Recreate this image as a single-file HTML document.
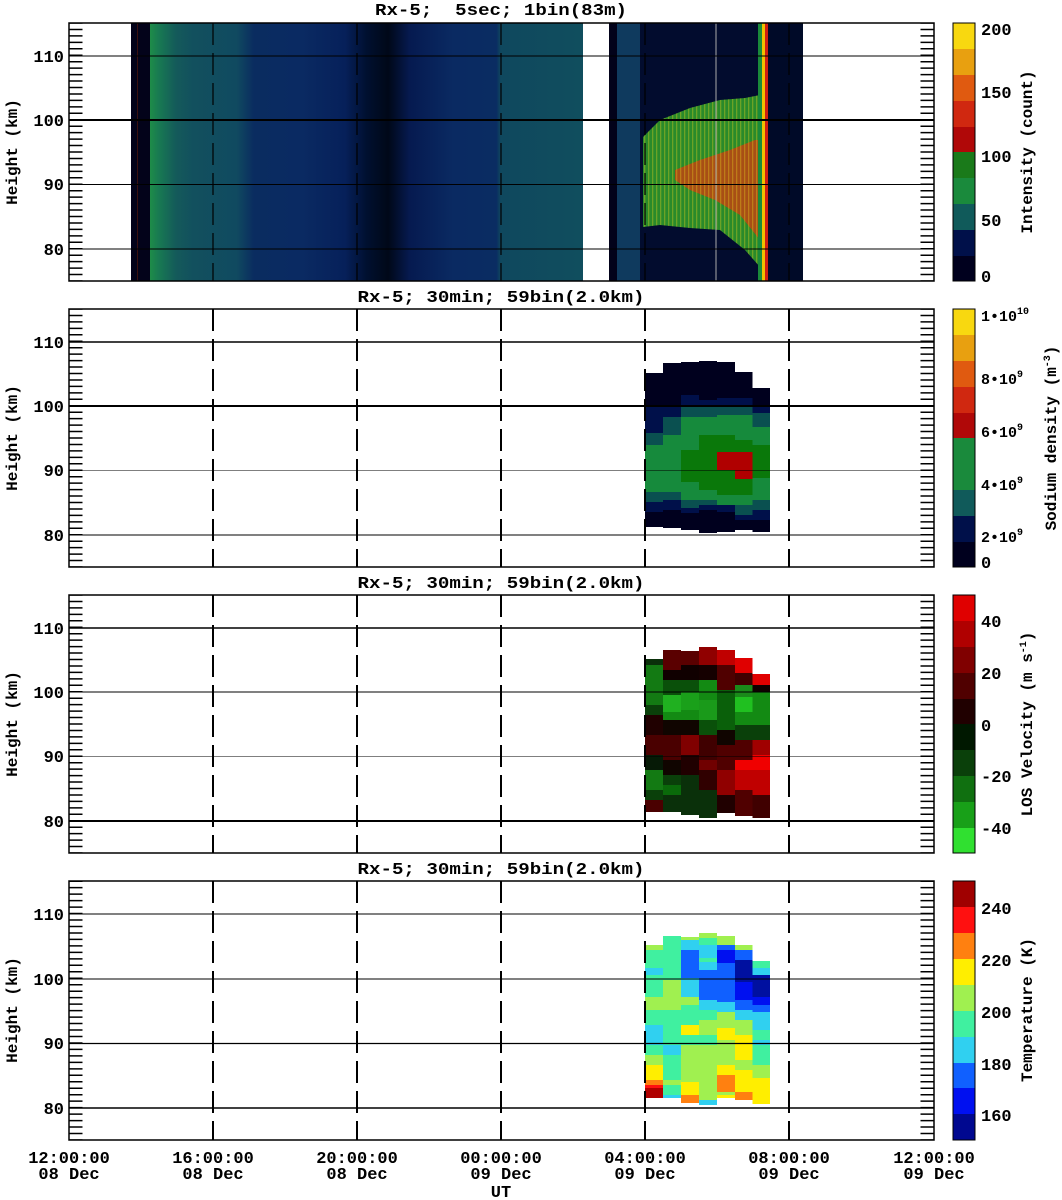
<!DOCTYPE html>
<html><head><meta charset="utf-8"><style>
html,body{margin:0;padding:0;background:#fff;}
svg{display:block;}
text{font-family:"Liberation Mono",monospace;font-weight:bold;fill:#000;}
</style></head><body>
<svg width="1062" height="1200" viewBox="0 0 1062 1200" xmlns="http://www.w3.org/2000/svg">
<defs>
<linearGradient id="g1" x1="0" x2="1" y1="0" y2="0">
<stop offset="0" stop-color="#1e8c48"/><stop offset="0.02" stop-color="#187a52"/>
<stop offset="0.06" stop-color="#145a5a"/><stop offset="0.1" stop-color="#12505e"/>
<stop offset="0.2" stop-color="#104a60"/><stop offset="0.24" stop-color="#0a2c60"/>
<stop offset="0.35" stop-color="#0a2a62"/><stop offset="0.45" stop-color="#06205a"/>
<stop offset="0.5" stop-color="#001030"/><stop offset="0.55" stop-color="#000818"/>
<stop offset="0.6" stop-color="#061a50"/><stop offset="0.7" stop-color="#0a2a62"/>
<stop offset="0.8" stop-color="#0a2c62"/><stop offset="0.81" stop-color="#0f485e"/>
<stop offset="1" stop-color="#104e5e"/>
</linearGradient>
<pattern id="str" width="4" height="10" patternUnits="userSpaceOnUse"><rect x="0" y="0" width="1.3" height="10" fill="#e8d020" opacity="0.35"/></pattern>
</defs>

<!-- Panel 1 data -->
<rect x="131" y="23" width="19" height="258" fill="#03031a"/>
<rect x="137" y="23" width="1" height="258" fill="#3a1010"/>
<rect x="150" y="23" width="433" height="258" fill="url(#g1)"/>
<rect x="609" y="23" width="8" height="258" fill="#02021a"/>
<rect x="617" y="23" width="23" height="258" fill="#0f3a5e"/>
<rect x="640" y="23" width="120" height="258" fill="#020c2e"/>
<polygon points="643,137 660,120 690,108 720,100 745,98 760,95 760,267 745,250 720,230 690,228 660,225 643,227" fill="#2a8a2a"/>
<polygon points="675,170 700,160 730,150 755,140 760,140 760,240 740,215 715,200 690,190 675,180" fill="#c84010" opacity="0.8"/>
<polygon points="643,137 660,120 690,108 720,100 745,98 760,95 760,267 745,250 720,230 690,228 660,225 643,227" fill="url(#str)"/>
<rect x="758" y="23" width="4" height="258" fill="#1a8a3a"/>
<rect x="762" y="23" width="3" height="258" fill="#f0c000"/>
<rect x="765" y="23" width="3" height="258" fill="#d02010"/>
<rect x="768" y="23" width="35" height="258" fill="#000a28"/>
<line x1="716" y1="23" x2="716" y2="281" stroke="#aaa" stroke-width="1"/>

<!-- Panel 2 data -->
<g shape-rendering="crispEdges">
<rect x="645" y="373" width="18.3" height="32" fill="#00001e"/><rect x="645" y="405" width="18.3" height="28" fill="#00104a"/><rect x="645" y="433" width="18.3" height="12" fill="#0a5050"/><rect x="645" y="445" width="18.3" height="47" fill="#168a3c"/><rect x="645" y="492" width="18.3" height="10" fill="#0a5050"/><rect x="645" y="502" width="18.3" height="10" fill="#00104a"/><rect x="645" y="512" width="18.3" height="15" fill="#00001e"/>
<rect x="663" y="363" width="18" height="42" fill="#00001e"/><rect x="663" y="405" width="18" height="12" fill="#00104a"/><rect x="663" y="417" width="18" height="18" fill="#0a5050"/><rect x="663" y="435" width="18" height="57" fill="#168a3c"/><rect x="663" y="492" width="18" height="8" fill="#0a5050"/><rect x="663" y="500" width="18" height="10" fill="#00104a"/><rect x="663" y="510" width="18" height="18" fill="#00001e"/>
<rect x="681" y="362" width="18" height="33" fill="#00001e"/><rect x="681" y="395" width="18" height="10" fill="#00104a"/><rect x="681" y="405" width="18" height="12" fill="#0a5050"/><rect x="681" y="417" width="18" height="33" fill="#168a3c"/><rect x="681" y="450" width="18" height="32" fill="#0a780a"/><rect x="681" y="482" width="18" height="18" fill="#168a3c"/><rect x="681" y="500" width="18" height="8" fill="#0a5050"/><rect x="681" y="508" width="18" height="5" fill="#00104a"/><rect x="681" y="513" width="18" height="17" fill="#00001e"/>
<rect x="699" y="361" width="18" height="39" fill="#00001e"/><rect x="699" y="400" width="18" height="7" fill="#00104a"/><rect x="699" y="407" width="18" height="10" fill="#0a5050"/><rect x="699" y="417" width="18" height="18" fill="#168a3c"/><rect x="699" y="435" width="18" height="55" fill="#0a780a"/><rect x="699" y="490" width="18" height="10" fill="#168a3c"/><rect x="699" y="500" width="18" height="5" fill="#0a5050"/><rect x="699" y="505" width="18" height="5" fill="#00104a"/><rect x="699" y="510" width="18" height="23" fill="#00001e"/>
<rect x="717" y="362" width="18" height="36" fill="#00001e"/><rect x="717" y="398" width="18" height="7" fill="#00104a"/><rect x="717" y="405" width="18" height="10" fill="#0a5050"/><rect x="717" y="415" width="18" height="20" fill="#168a3c"/><rect x="717" y="435" width="18" height="17" fill="#0a780a"/><rect x="717" y="452" width="18" height="18" fill="#b00000"/><rect x="717" y="470" width="18" height="25" fill="#0a780a"/><rect x="717" y="495" width="18" height="10" fill="#168a3c"/><rect x="717" y="505" width="18" height="7" fill="#00104a"/><rect x="717" y="512" width="18" height="20" fill="#00001e"/>
<rect x="735" y="372" width="17.5" height="26" fill="#00001e"/><rect x="735" y="398" width="17.5" height="7" fill="#00104a"/><rect x="735" y="405" width="17.5" height="10" fill="#0a5050"/><rect x="735" y="415" width="17.5" height="25" fill="#168a3c"/><rect x="735" y="440" width="17.5" height="12" fill="#0a780a"/><rect x="735" y="452" width="17.5" height="27" fill="#b00000"/><rect x="735" y="479" width="17.5" height="16" fill="#0a780a"/><rect x="735" y="495" width="17.5" height="10" fill="#168a3c"/><rect x="735" y="505" width="17.5" height="10" fill="#0a5050"/><rect x="735" y="515" width="17.5" height="5" fill="#00104a"/><rect x="735" y="520" width="17.5" height="10" fill="#00001e"/>
<rect x="752.5" y="388" width="17.5" height="17" fill="#00001e"/><rect x="752.5" y="405" width="17.5" height="8" fill="#00104a"/><rect x="752.5" y="413" width="17.5" height="14" fill="#0a5050"/><rect x="752.5" y="427" width="17.5" height="18" fill="#168a3c"/><rect x="752.5" y="445" width="17.5" height="33" fill="#0a780a"/><rect x="752.5" y="478" width="17.5" height="22" fill="#168a3c"/><rect x="752.5" y="500" width="17.5" height="10" fill="#0a5050"/><rect x="752.5" y="510" width="17.5" height="10" fill="#00104a"/><rect x="752.5" y="520" width="17.5" height="12" fill="#00001e"/>
</g>

<!-- Panel 3 data -->
<g shape-rendering="crispEdges">
<rect x="645" y="659" width="18.3" height="6" fill="#0a300a"/><rect x="645" y="665" width="18.3" height="40" fill="#137a13"/><rect x="645" y="705" width="18.3" height="10" fill="#0a400a"/><rect x="645" y="715" width="18.3" height="20" fill="#200000"/><rect x="645" y="735" width="18.3" height="20" fill="#4a0000"/><rect x="645" y="755" width="18.3" height="15" fill="#061a06"/><rect x="645" y="770" width="18.3" height="20" fill="#137a13"/><rect x="645" y="790" width="18.3" height="10" fill="#0a400a"/><rect x="645" y="800" width="18.3" height="12" fill="#4a0000"/>
<rect x="663" y="650" width="18" height="20" fill="#5a0000"/><rect x="663" y="670" width="18" height="10" fill="#100000"/><rect x="663" y="680" width="18" height="15" fill="#0a500a"/><rect x="663" y="695" width="18" height="17" fill="#20b020"/><rect x="663" y="712" width="18" height="8" fill="#138a13"/><rect x="663" y="720" width="18" height="15" fill="#100500"/><rect x="663" y="735" width="18" height="25" fill="#4a0000"/><rect x="663" y="760" width="18" height="15" fill="#100500"/><rect x="663" y="775" width="18" height="10" fill="#0a400a"/><rect x="663" y="785" width="18" height="10" fill="#0a6a0a"/><rect x="663" y="795" width="18" height="17" fill="#0a300a"/>
<rect x="681" y="651" width="18" height="14" fill="#5a0000"/><rect x="681" y="665" width="18" height="15" fill="#100000"/><rect x="681" y="680" width="18" height="12" fill="#0a500a"/><rect x="681" y="692" width="18" height="18" fill="#1aa01a"/><rect x="681" y="710" width="18" height="10" fill="#138a13"/><rect x="681" y="720" width="18" height="15" fill="#100500"/><rect x="681" y="735" width="18" height="20" fill="#800000"/><rect x="681" y="755" width="18" height="20" fill="#200000"/><rect x="681" y="775" width="18" height="40" fill="#0a300a"/>
<rect x="699" y="647" width="18" height="18" fill="#900000"/><rect x="699" y="665" width="18" height="15" fill="#150000"/><rect x="699" y="680" width="18" height="20" fill="#138a13"/><rect x="699" y="700" width="18" height="20" fill="#1a9a1a"/><rect x="699" y="720" width="18" height="15" fill="#0a500a"/><rect x="699" y="735" width="18" height="25" fill="#400000"/><rect x="699" y="760" width="18" height="10" fill="#700000"/><rect x="699" y="770" width="18" height="20" fill="#300000"/><rect x="699" y="790" width="18" height="28" fill="#0a300a"/>
<rect x="717" y="650" width="18" height="15" fill="#c00000"/><rect x="717" y="665" width="18" height="25" fill="#500000"/><rect x="717" y="690" width="18" height="40" fill="#0a600a"/><rect x="717" y="730" width="18" height="15" fill="#100500"/><rect x="717" y="745" width="18" height="25" fill="#500000"/><rect x="717" y="770" width="18" height="25" fill="#900000"/><rect x="717" y="795" width="18" height="18" fill="#200000"/>
<rect x="735" y="658" width="17.5" height="15" fill="#e00000"/><rect x="735" y="673" width="17.5" height="12" fill="#400000"/><rect x="735" y="685" width="17.5" height="12" fill="#1a8a1a"/><rect x="735" y="697" width="17.5" height="15" fill="#20c020"/><rect x="735" y="712" width="17.5" height="13" fill="#138a13"/><rect x="735" y="725" width="17.5" height="15" fill="#0a400a"/><rect x="735" y="740" width="17.5" height="20" fill="#500000"/><rect x="735" y="760" width="17.5" height="10" fill="#f00000"/><rect x="735" y="770" width="17.5" height="20" fill="#c00000"/><rect x="735" y="790" width="17.5" height="26" fill="#500000"/>
<rect x="752.5" y="674" width="17.5" height="11" fill="#e00000"/><rect x="752.5" y="685" width="17.5" height="7" fill="#100000"/><rect x="752.5" y="692" width="17.5" height="33" fill="#138a13"/><rect x="752.5" y="725" width="17.5" height="15" fill="#0a400a"/><rect x="752.5" y="740" width="17.5" height="15" fill="#a00000"/><rect x="752.5" y="755" width="17.5" height="15" fill="#f00000"/><rect x="752.5" y="770" width="17.5" height="25" fill="#c00000"/><rect x="752.5" y="795" width="17.5" height="23" fill="#400000"/>
</g>

<!-- Panel 4 data -->
<g shape-rendering="crispEdges">
<rect x="645" y="945" width="18.3" height="5" fill="#a0f050"/><rect x="645" y="950" width="18.3" height="18" fill="#40f0a0"/><rect x="645" y="968" width="18.3" height="7" fill="#30d0f0"/><rect x="645" y="975" width="18.3" height="22" fill="#40f0a0"/><rect x="645" y="997" width="18.3" height="13" fill="#a0f050"/><rect x="645" y="1010" width="18.3" height="15" fill="#40f0a0"/><rect x="645" y="1025" width="18.3" height="20" fill="#30d0f0"/><rect x="645" y="1045" width="18.3" height="10" fill="#40f0a0"/><rect x="645" y="1055" width="18.3" height="10" fill="#a0f050"/><rect x="645" y="1065" width="18.3" height="15" fill="#ffee00"/><rect x="645" y="1080" width="18.3" height="5" fill="#ff8010"/><rect x="645" y="1085" width="18.3" height="3" fill="#ff1010"/><rect x="645" y="1088" width="18.3" height="10" fill="#b00000"/>
<rect x="663" y="936" width="18" height="44" fill="#40f0a0"/><rect x="663" y="980" width="18" height="30" fill="#a0f050"/><rect x="663" y="1010" width="18" height="35" fill="#40f0a0"/><rect x="663" y="1045" width="18" height="10" fill="#30d0f0"/><rect x="663" y="1055" width="18" height="25" fill="#40f0a0"/><rect x="663" y="1080" width="18" height="5" fill="#a0f050"/><rect x="663" y="1085" width="18" height="10" fill="#40f0a0"/><rect x="663" y="1095" width="18" height="3" fill="#30d0f0"/>
<rect x="681" y="937" width="18" height="3" fill="#a0f050"/><rect x="681" y="940" width="18" height="10" fill="#30d0f0"/><rect x="681" y="950" width="18" height="28" fill="#1060ff"/><rect x="681" y="978" width="18" height="19" fill="#30d0f0"/><rect x="681" y="997" width="18" height="8" fill="#a0f050"/><rect x="681" y="1005" width="18" height="20" fill="#40f0a0"/><rect x="681" y="1025" width="18" height="10" fill="#ffee00"/><rect x="681" y="1035" width="18" height="10" fill="#40f0a0"/><rect x="681" y="1045" width="18" height="37" fill="#a0f050"/><rect x="681" y="1082" width="18" height="13" fill="#ffee00"/><rect x="681" y="1095" width="18" height="8" fill="#ff8010"/>
<rect x="699" y="933" width="18" height="5" fill="#a0f050"/><rect x="699" y="938" width="18" height="7" fill="#40f0a0"/><rect x="699" y="945" width="18" height="13" fill="#30d0f0"/><rect x="699" y="958" width="18" height="4" fill="#40f0a0"/><rect x="699" y="962" width="18" height="8" fill="#30d0f0"/><rect x="699" y="970" width="18" height="30" fill="#1060ff"/><rect x="699" y="1000" width="18" height="10" fill="#30d0f0"/><rect x="699" y="1010" width="18" height="10" fill="#40f0a0"/><rect x="699" y="1020" width="18" height="15" fill="#a0f050"/><rect x="699" y="1035" width="18" height="10" fill="#40f0a0"/><rect x="699" y="1045" width="18" height="55" fill="#a0f050"/><rect x="699" y="1100" width="18" height="5" fill="#30d0f0"/>
<rect x="717" y="936" width="18" height="9" fill="#a0f050"/><rect x="717" y="945" width="18" height="5" fill="#1060ff"/><rect x="717" y="950" width="18" height="13" fill="#0010f0"/><rect x="717" y="963" width="18" height="39" fill="#1060ff"/><rect x="717" y="1002" width="18" height="10" fill="#30d0f0"/><rect x="717" y="1012" width="18" height="16" fill="#a0f050"/><rect x="717" y="1028" width="18" height="12" fill="#ffee00"/><rect x="717" y="1040" width="18" height="25" fill="#a0f050"/><rect x="717" y="1065" width="18" height="10" fill="#ffee00"/><rect x="717" y="1075" width="18" height="17" fill="#ff8010"/><rect x="717" y="1092" width="18" height="3" fill="#a0f050"/><rect x="717" y="1095" width="18" height="3" fill="#ffee00"/>
<rect x="735" y="945" width="17.5" height="5" fill="#a0f050"/><rect x="735" y="950" width="17.5" height="10" fill="#1060ff"/><rect x="735" y="960" width="17.5" height="22" fill="#0010a0"/><rect x="735" y="982" width="17.5" height="18" fill="#0010f0"/><rect x="735" y="1000" width="17.5" height="10" fill="#1060ff"/><rect x="735" y="1010" width="17.5" height="10" fill="#30d0f0"/><rect x="735" y="1020" width="17.5" height="15" fill="#a0f050"/><rect x="735" y="1035" width="17.5" height="25" fill="#ffee00"/><rect x="735" y="1060" width="17.5" height="10" fill="#a0f050"/><rect x="735" y="1070" width="17.5" height="22" fill="#ffee00"/><rect x="735" y="1092" width="17.5" height="8" fill="#ff8010"/>
<rect x="752.5" y="961" width="17.5" height="7" fill="#40f0a0"/><rect x="752.5" y="968" width="17.5" height="7" fill="#30d0f0"/><rect x="752.5" y="975" width="17.5" height="22" fill="#0010a0"/><rect x="752.5" y="997" width="17.5" height="8" fill="#0010f0"/><rect x="752.5" y="1005" width="17.5" height="7" fill="#1060ff"/><rect x="752.5" y="1012" width="17.5" height="18" fill="#30d0f0"/><rect x="752.5" y="1030" width="17.5" height="10" fill="#40f0a0"/><rect x="752.5" y="1040" width="17.5" height="5" fill="#30d0f0"/><rect x="752.5" y="1045" width="17.5" height="20" fill="#40f0a0"/><rect x="752.5" y="1065" width="17.5" height="13" fill="#a0f050"/><rect x="752.5" y="1078" width="17.5" height="26" fill="#ffee00"/>
</g>

<!-- Axes -->
<g fill="none" stroke="#000">
<g>
<line x1="69" y1="249" x2="934" y2="249" stroke-width="1"/><line x1="69" y1="184.5" x2="934" y2="184.5" stroke-width="1"/><line x1="69" y1="120" x2="934" y2="120" stroke-width="2"/><line x1="69" y1="56" x2="934" y2="56" stroke-width="1"/>
<g stroke-width="1.2" stroke-dasharray="22 8"><line x1="213" y1="23" x2="213" y2="281"/><line x1="357" y1="23" x2="357" y2="281"/><line x1="501" y1="23" x2="501" y2="281"/><line x1="645" y1="23" x2="645" y2="281"/><line x1="789" y1="23" x2="789" y2="281"/></g>
<line x1="76" y1="281" x2="76" y2="23" stroke-width="13" stroke-dasharray="1.5 4.95" stroke-dashoffset="0.75"/>
<line x1="927" y1="281" x2="927" y2="23" stroke-width="13" stroke-dasharray="1.5 4.95" stroke-dashoffset="0.75"/>
<rect x="69" y="23" width="865" height="258" stroke-width="1.5"/>
</g>
<g>
<line x1="69" y1="535" x2="934" y2="535" stroke-width="1"/><line x1="69" y1="470.5" x2="934" y2="470.5" stroke-width="0.6"/><line x1="69" y1="406" x2="934" y2="406" stroke-width="2"/><line x1="69" y1="342" x2="934" y2="342" stroke-width="1.5"/>
<g stroke-width="2" stroke-dasharray="22 8"><line x1="213" y1="309" x2="213" y2="567"/><line x1="357" y1="309" x2="357" y2="567"/><line x1="501" y1="309" x2="501" y2="567"/><line x1="645" y1="309" x2="645" y2="567"/><line x1="789" y1="309" x2="789" y2="567"/></g>
<line x1="76" y1="567" x2="76" y2="309" stroke-width="13" stroke-dasharray="1.5 4.95" stroke-dashoffset="0.75"/>
<line x1="927" y1="567" x2="927" y2="309" stroke-width="13" stroke-dasharray="1.5 4.95" stroke-dashoffset="0.75"/>
<rect x="69" y="309" width="865" height="258" stroke-width="1.5"/>
</g>
<g>
<line x1="69" y1="821" x2="934" y2="821" stroke-width="2"/><line x1="69" y1="756.5" x2="934" y2="756.5" stroke-width="0.6"/><line x1="69" y1="692" x2="934" y2="692" stroke-width="1"/><line x1="69" y1="628" x2="934" y2="628" stroke-width="1.5"/>
<g stroke-width="2" stroke-dasharray="22 8"><line x1="213" y1="595" x2="213" y2="853"/><line x1="357" y1="595" x2="357" y2="853"/><line x1="501" y1="595" x2="501" y2="853"/><line x1="645" y1="595" x2="645" y2="853"/><line x1="789" y1="595" x2="789" y2="853"/></g>
<line x1="76" y1="853" x2="76" y2="595" stroke-width="13" stroke-dasharray="1.5 4.95" stroke-dashoffset="0.75"/>
<line x1="927" y1="853" x2="927" y2="595" stroke-width="13" stroke-dasharray="1.5 4.95" stroke-dashoffset="0.75"/>
<rect x="69" y="595" width="865" height="258" stroke-width="1.5"/>
</g>
<g>
<line x1="69" y1="1108" x2="934" y2="1108" stroke-width="1.5"/><line x1="69" y1="1043.5" x2="934" y2="1043.5" stroke-width="1.2"/><line x1="69" y1="979" x2="934" y2="979" stroke-width="1"/><line x1="69" y1="914" x2="934" y2="914" stroke-width="1"/>
<g stroke-width="2" stroke-dasharray="22 8"><line x1="213" y1="881" x2="213" y2="1140"/><line x1="357" y1="881" x2="357" y2="1140"/><line x1="501" y1="881" x2="501" y2="1140"/><line x1="645" y1="881" x2="645" y2="1140"/><line x1="789" y1="881" x2="789" y2="1140"/></g>
<line x1="76" y1="1140" x2="76" y2="881" stroke-width="13" stroke-dasharray="1.5 4.97" stroke-dashoffset="0.75"/>
<line x1="927" y1="1140" x2="927" y2="881" stroke-width="13" stroke-dasharray="1.5 4.97" stroke-dashoffset="0.75"/>
<rect x="69" y="881" width="865" height="259" stroke-width="1.5"/>
</g>
</g>

<!-- Titles -->
<g font-size="17" text-anchor="middle">
<text x="501" y="15" xml:space="preserve" textLength="252" lengthAdjust="spacingAndGlyphs">Rx-5;  5sec; 1bin(83m)</text>
<text x="501" y="302" textLength="287" lengthAdjust="spacingAndGlyphs">Rx-5; 30min; 59bin(2.0km)</text>
<text x="501" y="588" textLength="287" lengthAdjust="spacingAndGlyphs">Rx-5; 30min; 59bin(2.0km)</text>
<text x="501" y="874" textLength="287" lengthAdjust="spacingAndGlyphs">Rx-5; 30min; 59bin(2.0km)</text>
</g>

<g font-size="17" text-anchor="end">
<text x="64" y="62">110</text><text x="64" y="126">100</text><text x="64" y="190">90</text><text x="64" y="255">80</text>
<text x="64" y="348">110</text><text x="64" y="412">100</text><text x="64" y="476">90</text><text x="64" y="541">80</text>
<text x="64" y="634">110</text><text x="64" y="698">100</text><text x="64" y="762">90</text><text x="64" y="827">80</text>
<text x="64" y="920">110</text><text x="64" y="985">100</text><text x="64" y="1049">90</text><text x="64" y="1114">80</text>
</g>
<g font-size="16" text-anchor="middle">
<text transform="translate(17,152) rotate(-90)">Height (km)</text>
<text transform="translate(17,438) rotate(-90)">Height (km)</text>
<text transform="translate(17,724) rotate(-90)">Height (km)</text>
<text transform="translate(17,1010) rotate(-90)">Height (km)</text>
</g>

<g font-size="17" text-anchor="middle">
<text x="69" y="1163">12:00:00</text><text x="69" y="1179">08 Dec</text>
<text x="213" y="1163">16:00:00</text><text x="213" y="1179">08 Dec</text>
<text x="357" y="1163">20:00:00</text><text x="357" y="1179">08 Dec</text>
<text x="501" y="1163">00:00:00</text><text x="501" y="1179">09 Dec</text>
<text x="645" y="1163">04:00:00</text><text x="645" y="1179">09 Dec</text>
<text x="789" y="1163">08:00:00</text><text x="789" y="1179">09 Dec</text>
<text x="934" y="1163">12:00:00</text><text x="934" y="1179">09 Dec</text>
<text x="501" y="1197">UT</text>
</g>

<!-- Colorbars -->
<g shape-rendering="crispEdges">
<rect x="953" y="23" width="22" height="26" fill="#f8d810"/><rect x="953" y="49" width="22" height="26" fill="#e8a010"/><rect x="953" y="75" width="22" height="26" fill="#e05a10"/><rect x="953" y="101" width="22" height="26" fill="#d02810"/><rect x="953" y="127" width="22" height="25" fill="#b00808"/><rect x="953" y="152" width="22" height="26" fill="#1a7a1a"/><rect x="953" y="178" width="22" height="26" fill="#1a8a3c"/><rect x="953" y="204" width="22" height="26" fill="#105a5a"/><rect x="953" y="230" width="22" height="26" fill="#00104a"/><rect x="953" y="256" width="22" height="25" fill="#00001e"/>
<rect x="953" y="309" width="22" height="26" fill="#f8d810"/><rect x="953" y="335" width="22" height="26" fill="#e8a010"/><rect x="953" y="361" width="22" height="26" fill="#e05a10"/><rect x="953" y="387" width="22" height="26" fill="#d02810"/><rect x="953" y="413" width="22" height="25" fill="#b00808"/><rect x="953" y="438" width="22" height="26" fill="#1a8a3c"/><rect x="953" y="464" width="22" height="26" fill="#1a8a3c"/><rect x="953" y="490" width="22" height="26" fill="#105a5a"/><rect x="953" y="516" width="22" height="26" fill="#00104a"/><rect x="953" y="542" width="22" height="25" fill="#00001e"/>
<rect x="953" y="595" width="22" height="26" fill="#e00000"/><rect x="953" y="621" width="22" height="26" fill="#b00000"/><rect x="953" y="647" width="22" height="26" fill="#800000"/><rect x="953" y="673" width="22" height="26" fill="#500000"/><rect x="953" y="699" width="22" height="25" fill="#200000"/><rect x="953" y="724" width="22" height="26" fill="#001800"/><rect x="953" y="750" width="22" height="26" fill="#0a400a"/><rect x="953" y="776" width="22" height="26" fill="#107010"/><rect x="953" y="802" width="22" height="26" fill="#18a018"/><rect x="953" y="828" width="22" height="25" fill="#30e030"/>
<rect x="953" y="881" width="22" height="26" fill="#a00000"/><rect x="953" y="907" width="22" height="26" fill="#ff1010"/><rect x="953" y="933" width="22" height="26" fill="#ff8010"/><rect x="953" y="959" width="22" height="26" fill="#ffee00"/><rect x="953" y="985" width="22" height="26" fill="#a0f050"/><rect x="953" y="1011" width="22" height="26" fill="#40f0a0"/><rect x="953" y="1037" width="22" height="26" fill="#30d0f0"/><rect x="953" y="1063" width="22" height="25" fill="#1060ff"/><rect x="953" y="1088" width="22" height="26" fill="#0010f0"/><rect x="953" y="1114" width="22" height="26" fill="#000890"/>
</g>
<g fill="none" stroke="#000" stroke-width="1">
<rect x="953" y="23" width="22" height="258"/><rect x="953" y="309" width="22" height="258"/><rect x="953" y="595" width="22" height="258"/><rect x="953" y="881" width="22" height="259"/>
</g>

<g font-size="17">
<text x="981" y="35">200</text><text x="981" y="98">150</text><text x="981" y="162">100</text><text x="981" y="226">50</text><text x="981" y="282">0</text>
<text x="981" y="321" font-size="15">1•10<tspan font-size="10" dy="-7">10</tspan></text>
<text x="981" y="384" font-size="15">8•10<tspan font-size="10" dy="-7">9</tspan></text>
<text x="981" y="437" font-size="15">6•10<tspan font-size="10" dy="-7">9</tspan></text>
<text x="981" y="490" font-size="15">4•10<tspan font-size="10" dy="-7">9</tspan></text>
<text x="981" y="542" font-size="15">2•10<tspan font-size="10" dy="-7">9</tspan></text>
<text x="981" y="568">0</text>
<text x="981" y="627">40</text><text x="981" y="679">20</text><text x="981" y="731">0</text><text x="981" y="782">-20</text><text x="981" y="834">-40</text>
<text x="981" y="914">240</text><text x="981" y="966">220</text><text x="981" y="1018">200</text><text x="981" y="1070">180</text><text x="981" y="1121">160</text>
</g>
<g font-size="16" text-anchor="middle">
<text transform="translate(1032,152) rotate(-90)">Intensity (count)</text>
<text transform="translate(1056,438) rotate(-90)">Sodium density (m<tspan font-size="10" dy="-6">-3</tspan><tspan dy="6">)</tspan></text>
<text transform="translate(1032,724) rotate(-90)">LOS Velocity (m s<tspan font-size="10" dy="-6">-1</tspan><tspan dy="6">)</tspan></text>
<text transform="translate(1032,1010) rotate(-90)">Temperature (K)</text>
</g>
</svg>
</body></html>
